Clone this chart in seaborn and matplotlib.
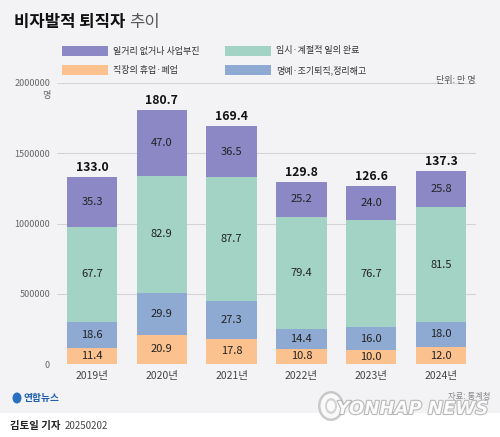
import seaborn as sns
import pandas as pd
import matplotlib.pyplot as plt
import matplotlib.patheffects as pe
from matplotlib.patches import Rectangle, Ellipse
import numpy as np

# values in 만 명 (10,000 people)
years = ['2019년', '2020년', '2021년', '2022년', '2023년', '2024년']
closure = [11.4, 20.9, 17.8, 10.8, 10.0, 12.0]        # 직장의 휴업·폐업
early_ret = [18.6, 29.9, 27.3, 14.4, 16.0, 18.0]      # 명예·조기퇴직,정리해고
temp_end = [67.7, 82.9, 87.7, 79.4, 76.7, 81.5]       # 임시·계절적 일의 완료
no_work = [35.3, 47.0, 36.5, 25.2, 24.0, 25.8]        # 일거리 없거나 사업부진
totals = [133.0, 180.7, 169.4, 129.8, 126.6, 137.3]
yticks = [0, 500000, 1000000, 1500000, 2000000]

names = ['직장의 휴업·폐업', '명예·조기퇴직,정리해고', '임시·계절적 일의 완료', '일거리 없거나 사업부진']
colors = ['#fbc18e', '#8faad2', '#a2d3c5', '#8b88c5']
series = [closure, early_ret, temp_end, no_work]

BG = '#f3f3f5'
sns.set_style('white')
plt.rcParams['font.family'] = ['Noto Sans CJK KR', 'DejaVu Sans']

df = pd.DataFrame({'year': years})
for n, s in zip(names, series):
    df[n] = np.array(s) * 10000
cum = df[names].cumsum(axis=1)

fig = plt.figure(figsize=(5, 4.37), dpi=100, facecolor='white')
fig.add_artist(Rectangle((0, 1 - 413 / 437), 1, 413 / 437, transform=fig.transFigure,
                         facecolor=BG, edgecolor='none', zorder=-10))
ax = fig.add_axes([57 / 500, 1 - 364 / 437, 419 / 500, 281 / 437])
ax.set_facecolor(BG)

# stacked bars: draw cumulative totals from top layer down
for i in range(len(names) - 1, -1, -1):
    sns.barplot(x=df['year'], y=cum[names[i]], color=colors[i], width=0.72,
                saturation=1, ax=ax, zorder=3, order=years, linewidth=0, edgecolor='none')

for j in range(len(years)):
    base = 0
    for i, s in enumerate(series):
        v = s[j] * 10000
        ax.text(j, base + v / 2, f'{s[j]:.1f}', ha='center', va='center',
                fontsize=8, color='#222222', zorder=5)
        base += v
    ax.text(j, totals[j] * 10000 + 20000, f'{totals[j]:.1f}', ha='center', va='bottom',
            fontsize=8.8, fontweight='bold', color='#111111', zorder=5)

ax.set_ylim(0, 2000000)
ax.set_xlim(-0.5, 5.5)
ax.set_yticks(yticks)
ax.set_yticklabels([str(t) for t in yticks])
ax.yaxis.grid(True, color='#d4d4d8', lw=0.8, zorder=0)
ax.set_axisbelow(True)
ax.tick_params(axis='y', length=0, pad=5, labelsize=6.5, labelcolor='#666666')
ax.tick_params(axis='x', length=0, pad=5, labelsize=7.5, labelcolor='#444444')
ax.set_xlabel('')
ax.set_ylabel('')
for sp in ax.spines.values():
    sp.set_visible(False)
ax.annotate('명', xy=(0, 2000000), xycoords=('axes fraction', 'data'), xytext=(-5, -9),
            textcoords='offset points', ha='right', va='center', fontsize=6.5, color='#666666')

# title
t1 = fig.text(14 / 500, 1 - 22 / 437, '비자발적 퇴직자', fontsize=12, fontweight='bold',
              color='#111111', va='center', ha='left')
fig.canvas.draw()
bb = t1.get_window_extent()
fig.text((bb.x1 + 4) / 500, 1 - 22 / 437, '추이', fontsize=12, fontweight='light',
         color='#555555', va='center', ha='left')

# legend
leg = [(62, 51, 3, '일거리 없거나 사업부진'), (225, 51, 2, '임시·계절적 일의 완료'),
       (62, 70, 0, '직장의 휴업·폐업'), (225, 70, 1, '명예·조기퇴직,정리해고')]
for x, y, ci, lab in leg:
    fig.add_artist(Rectangle((x / 500, 1 - (y + 5) / 437), 46 / 500, 10 / 437,
                             transform=fig.transFigure, facecolor=colors[ci], edgecolor='none'))
    fig.text((x + 51) / 500, 1 - y / 437, lab, fontsize=6.5, color='#333333', va='center', ha='left')

fig.text(475 / 500, 1 - 80 / 437, '단위: 만 명', fontsize=6.5, color='#555555', va='center', ha='right')

# footer
fig.add_artist(Ellipse((17 / 500, 1 - 398 / 437), 9 / 500, 11 / 437, transform=fig.transFigure,
                       facecolor='#2a6fc0', edgecolor='none'))
fig.text(24 / 500, 1 - 398 / 437, '연합뉴스', fontsize=7, fontweight='bold', color='#1f5fae',
         va='center', ha='left')
fig.text(490 / 500, 1 - 397 / 437, '자료: 통계청', fontsize=6, color='#888888', va='center', ha='right')
wm = fig.text(488 / 500, 1 - 409 / 437, 'YONHAP NEWS', fontsize=13, fontweight='bold',
              fontstyle='italic', color='white', va='center', ha='right', alpha=0.9,
              family='DejaVu Sans')
wm.set_path_effects([pe.withStroke(linewidth=1.5, foreground='#b0b0b0')])
for w, h, fc in [(26, 30, '#c4c4c4'), (21, 25, 'white'), (12, 16, '#d0d0d0'), (8, 11, 'white')]:
    fig.add_artist(Ellipse((331 / 500, 1 - 406 / 437), w / 500, h / 437,
                           transform=fig.transFigure, facecolor=fc, edgecolor='none', alpha=0.9))

t2 = fig.text(10 / 500, 1 - 426 / 437, '김토일 기자', fontsize=7.5, fontweight='bold',
              color='#222222', va='center', ha='left')
fig.canvas.draw()
bb = t2.get_window_extent()
fig.text((bb.x1 + 4) / 500, 1 - 426 / 437, '20250202', fontsize=7, color='#444444',
         va='center', ha='left')

fig.savefig('out.png', dpi=100, facecolor='white')
